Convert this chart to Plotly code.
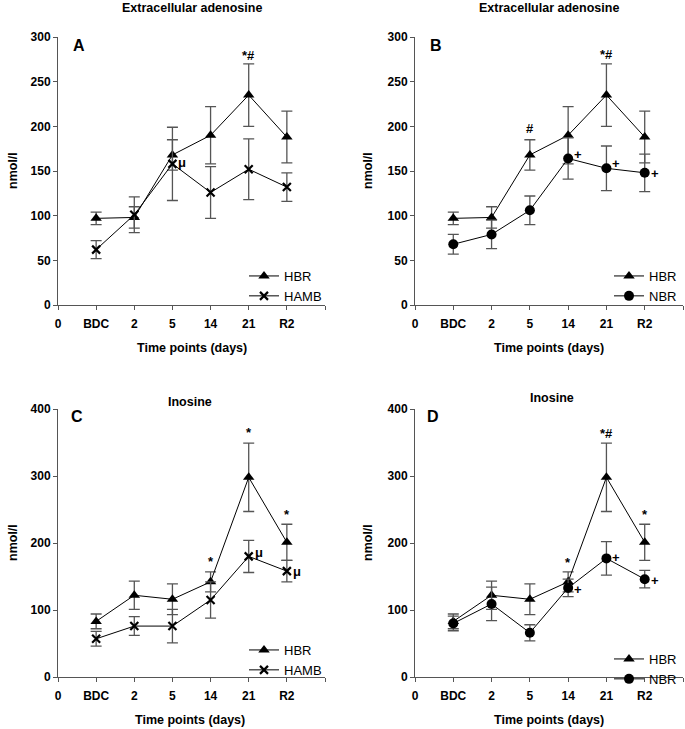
import plotly.graph_objects as go

W, H = 685, 729

# ---------------- data ----------------
time_labels = ["0", "BDC", "2", "5", "14", "21", "R2", ""]
time_pos = [1, 2, 3, 4, 5, 6]

ado_hbr = [97, 98, 168, 190, 235, 188]
ado_hbr_err = [7, 12, 17, 32, 35, 29]
ado_hamb = [62, 101, 158, 126, 152, 132]
ado_hamb_err = [10, 20, 41, 29, 34, 16]
ado_nbr = [68, 79, 106, 164, 153, 148]
ado_nbr_err = [11, 16, 16, 23, 25, 21]

ino_hbr = [83, 122, 116, 142, 298, 201]
ino_hbr_err = [11, 21, 23, 15, 51, 27]
ino_hamb = [57, 76, 76, 115, 180, 158]
ino_hamb_err = [11, 14, 25, 27, 24, 16]
ino_nbr = [80, 109, 66, 133, 177, 146]
ino_nbr_err = [11, 25, 12, 13, 25, 13]

# significance marks: (time index, y value, text, kind) kind: 'above' or 'right'
marks_A = [(5, 279, "*#", "above"), (3, 159, "μ", "right")]
marks_B = [(3, 198, "#", "above"), (5, 280, "*#", "above"),
           (4, 168, "+", "right"), (5, 158, "+", "right"), (6, 147, "+", "right")]
marks_C = [(4, 173, "*", "above"), (5, 365, "*", "above"), (6, 242, "*", "above"),
           (5, 186, "μ", "right"), (6, 157, "μ", "right")]
marks_D = [(4, 171, "*", "above"), (5, 364, "*#", "above"), (6, 243, "*", "above"),
           (4, 130, "+", "right"), (5, 178, "+", "right"), (6, 144, "+", "right")]

# ---------------- layout helpers ----------------
def px(x):
    return x / W

def py(y):
    return 1 - y / H

FONT = "Liberation Sans, Arial, sans-serif"
AX_COL = "#555555"
ERR_COL = "#555555"

panels = [
    dict(key="", x0=58, x1=325, yt=37, yb=305, ymax=300, dtick=50,
         title="Extracellular adenosine", tpos=(192, 8), xtpos=(192, 348), ytpos=(13, 171),
         letter="A", lpos=(79, 45), leg=(244, 261)),
    dict(key="2", x0=415, x1=683, yt=37, yb=305, ymax=300, dtick=50,
         title="Extracellular adenosine", tpos=(549, 8), xtpos=(549, 348), ytpos=(368, 171),
         letter="B", lpos=(436, 45), leg=(609, 261)),
    dict(key="3", x0=58, x1=325, yt=409, yb=677, ymax=400, dtick=100,
         title="Inosine", tpos=(190, 402), xtpos=(190, 720), ytpos=(13, 543),
         letter="C", lpos=(77, 417), leg=(244, 635)),
    dict(key="4", x0=415, x1=683, yt=409, yb=677, ymax=400, dtick=100,
         title="Inosine", tpos=(552, 398), xtpos=(549, 720), ytpos=(368, 543),
         letter="D", lpos=(433, 417), leg=(609, 644)),
]

series = [
    [("HBR", ado_hbr, ado_hbr_err, "triangle-up"), ("HAMB", ado_hamb, ado_hamb_err, "x-thin")],
    [("HBR", ado_hbr, ado_hbr_err, "triangle-up"), ("NBR", ado_nbr, ado_nbr_err, "circle")],
    [("HBR", ino_hbr, ino_hbr_err, "triangle-up"), ("HAMB", ino_hamb, ino_hamb_err, "x-thin")],
    [("HBR", ino_hbr, ino_hbr_err, "triangle-up"), ("NBR", ino_nbr, ino_nbr_err, "circle")],
]
all_marks = [marks_A, marks_B, marks_C, marks_D]

fig = go.Figure()
layout = dict(width=W, height=H, margin=dict(l=0, r=0, t=0, b=0, autoexpand=False),
              template="none",
              paper_bgcolor="white", plot_bgcolor="white", showlegend=True,
              font=dict(family=FONT, color="black"))
annotations = []

def ann(text, x, y, size, **kw):
    d = dict(text=text, x=px(x), y=py(y), xref="paper", yref="paper", showarrow=False,
             xanchor="center", yanchor="middle", font=dict(size=size, weight="bold", color="black"))
    d.update(kw)
    return d

for p, ser, marks in zip(panels, series, all_marks):
    k = p["key"]
    xa, ya = "x" + k, "y" + k
    legname = "legend" + k
    for name, vals, errs, sym in ser:
        if sym == "x-thin":
            marker = dict(symbol="x-thin", size=8, color="black", line=dict(color="black", width=2.2))
        elif sym == "circle":
            marker = dict(symbol="circle", size=10, color="black")
        else:
            marker = dict(symbol="triangle-up", size=10, color="black")
        fig.add_trace(go.Scatter(
            x=time_pos, y=vals, name=name, mode="lines+markers",
            line=dict(color="black", width=1), marker=marker,
            error_y=dict(type="data", array=errs, visible=True, color=ERR_COL, thickness=1.3, width=5.5),
            xaxis=xa, yaxis=ya, legend=legname, cliponaxis=False))
    layout["xaxis" + k] = dict(
        domain=[px(p["x0"]), px(p["x1"])], range=[0, 7], anchor=ya, automargin=False,
        tickmode="array", tickvals=list(range(8)), ticktext=time_labels,
        showline=True, linecolor=AX_COL, linewidth=1, ticks="outside", ticklen=4,
        tickcolor=AX_COL, showgrid=False, zeroline=False, ticklabelstandoff=4,
        tickfont=dict(family=FONT, size=12, color="black", weight="bold"))
    layout["yaxis" + k] = dict(
        domain=[py(p["yb"]), py(p["yt"])], range=[0, p["ymax"]], anchor=xa, automargin=False,
        dtick=p["dtick"], tick0=0,
        showline=True, linecolor=AX_COL, linewidth=1, ticks="outside", ticklen=4,
        tickcolor=AX_COL, showgrid=False, zeroline=False,
        tickfont=dict(family=FONT, size=12, color="black", weight="bold"))
    layout[legname] = dict(
        x=px(p["leg"][0]), y=py(p["leg"][1]), xanchor="left", yanchor="top",
        bgcolor="rgba(0,0,0,0)", font=dict(family=FONT, size=13, color="black"),
        itemwidth=30, tracegroupgap=0)
    annotations.append(ann(p["title"], *p["tpos"], 12.5))
    annotations.append(ann("Time points (days)", *p["xtpos"], 12.5))
    annotations.append(ann("nmol/l", *p["ytpos"], 12.5, textangle=-90))
    annotations.append(ann(p["letter"], *p["lpos"], 16))
    for ti, yv, txt, kind in marks:
        a = dict(text=txt, x=time_pos[ti - 1], y=yv, xref=xa, yref=ya, showarrow=False,
                 xanchor="center", yanchor="middle",
                 font=dict(size=13, weight="bold", color="black"))
        if kind == "right":
            a["xshift"] = 10
        annotations.append(a)

layout["annotations"] = annotations
fig.update_layout(**layout)
fig.write_html(
    "out.html",
    config={"displayModeBar": False},
    post_script="document.body.style.margin='0';document.body.style.overflow='hidden';",
)
